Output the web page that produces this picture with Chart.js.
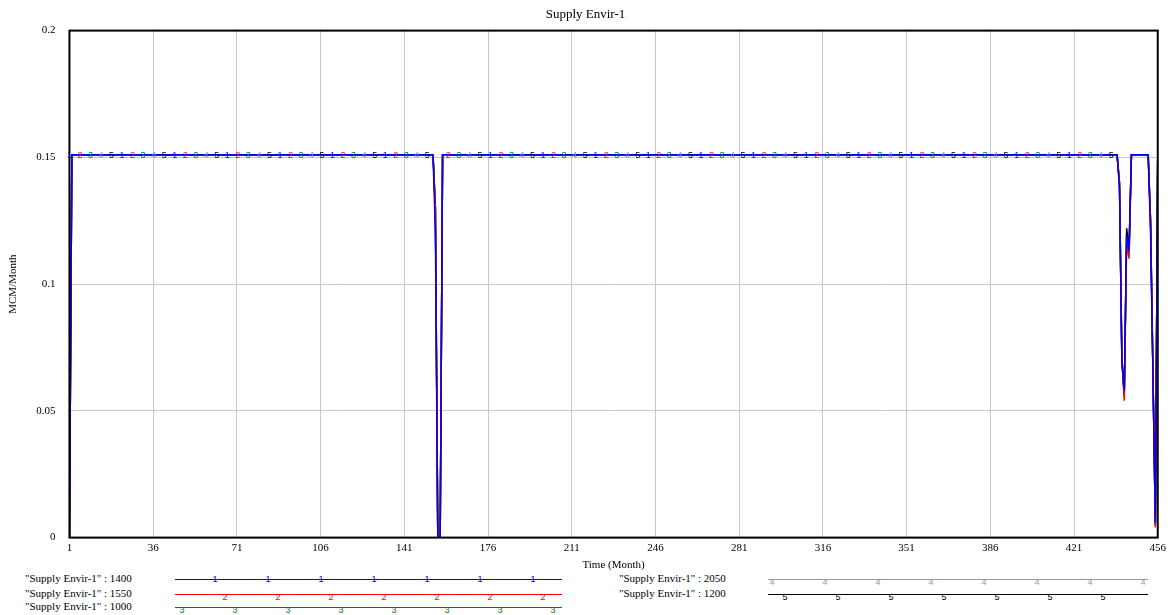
<!DOCTYPE html>
<html><head><meta charset="utf-8">
<script src="https://cdn.jsdelivr.net/npm/chart.js@4"></script>
<style>
body{margin:0;background:#fff;font-family:"Liberation Serif",serif;}
#wrap{position:absolute;left:0;top:0;width:1170px;height:572px;}
.lg{position:absolute;font-size:11px;color:#000;white-space:nowrap;}
.ln{position:absolute;height:1px;}
.mk{position:absolute;font-size:9px;font-family:"Liberation Sans",sans-serif;transform:translate(-50%,-50%);}
</style></head><body>
<div id="wrap"><canvas id="c"></canvas></div>
<div id="legend"></div>
<script>
const seriesNames = ['"Supply Envir-1" : 1400','"Supply Envir-1" : 1550','"Supply Envir-1" : 1000','"Supply Envir-1" : 2050','"Supply Envir-1" : 1200'];
const seriesColors = ['#0000ff','#ff0000','#008000','#999999','#000000'];
const xTicks = [1,36,71,106,141,176,211,246,281,316,351,386,421,456];
// breakpoints [month, MCM/Month]
const s1400 = [[1,0],[2,0.151],[153,0.151],[154,0.12],[155,0],[156,0],[157,0.151],[439,0.151],[440,0.138],[441,0.07],[442,0.058],[443,0.119],[444,0.113],[445,0.151],[452,0.151],[453,0.12],[455,0.006],[456,0.151]];
const s1550 = [[1,0],[2,0.151],[153,0.151],[154,0.13],[155,0],[156,0],[157,0.151],[439,0.151],[440,0.14],[441,0.072],[442,0.054],[443,0.116],[444,0.11],[445,0.151],[452,0.151],[453,0.125],[455,0.004],[456,0.151]];
const s1000 = [[1,0],[2,0.151],[153,0.151],[154,0.13],[155,0],[156,0],[157,0.151],[439,0.151],[440,0.14],[441,0.07],[442,0.056],[443,0.12],[444,0.112],[445,0.151],[452,0.151],[453,0.125],[455,0.005],[456,0.151]];
const s2050 = [[1,0],[2,0.151],[153,0.151],[154,0.13],[155,0],[156,0],[157,0.151],[439,0.151],[440,0.14],[441,0.07],[442,0.056],[443,0.12],[444,0.112],[445,0.151],[452,0.151],[453,0.125],[455,0.005],[456,0.151]];
const s1200 = [[1,0],[2,0.151],[153,0.151],[154,0.13],[155,0],[156,0],[157,0.151],[439,0.151],[440,0.14],[441,0.07],[442,0.056],[443,0.122],[444,0.114],[445,0.151],[452,0.151],[453,0.125],[455,0.005],[456,0.151]];
const seriesData = [s1400,s1550,s1000,s2050,s1200];

const order=[0,1,4,2,3];
const datasets = order.map(i=>({
  label:seriesNames[i], data:seriesData[i].map(p=>({x:p[0],y:p[1]})),
  borderColor:seriesColors[i], borderWidth:1.5, pointRadius:0, tension:0
}));

const digitPlugin={id:'digits',afterDatasetsDraw(chart){
  const ctx=chart.ctx,xs=chart.scales.x,ys=chart.scales.y;
  ctx.save();ctx.font='9px "Liberation Sans", sans-serif';ctx.textAlign='center';ctx.textBaseline='middle';
  const y=ys.getPixelForValue(0.151)+1;
  for(let k=0;k<5;k++){
    ctx.fillStyle=seriesColors[k];
    for(let t=1+k*4.4;t<=456;t+=22){
      if((t>152&&t<158)||(t>437))continue;
      ctx.fillText(String(k+1),xs.getPixelForValue(t),y);
    }
  }
  ctx.restore();
}};
const framePlugin={id:'frame',afterDraw(chart){
  const a=chart.chartArea,ctx=chart.ctx;ctx.save();ctx.strokeStyle='#000';ctx.lineWidth=2;
  ctx.strokeRect(a.left,a.top,a.right-a.left,a.bottom-a.top);ctx.restore();
}};

const cv=document.getElementById('c');cv.width=1170;cv.height=572;
new Chart(cv,{type:'line',data:{datasets},
 options:{responsive:false,animation:false,
  layout:{padding:{left:5,right:4,top:2,bottom:0}},
  plugins:{legend:{display:false},tooltip:{enabled:false},
   title:{display:true,text:'Supply Envir-1',color:'#000',font:{family:'Liberation Serif',size:13,weight:'normal'},padding:{top:5,bottom:8}}},
  scales:{
   x:{type:'linear',min:1,max:456,afterBuildTicks:s=>{s.ticks=xTicks.map(v=>({value:v}));},
     grid:{color:'#c8c8c8',drawTicks:false},border:{display:false},
     ticks:{color:'#000',font:{family:'Liberation Serif',size:11},padding:4,maxRotation:0},
     title:{display:true,text:'Time (Month)',color:'#000',font:{family:'Liberation Serif',size:11},padding:0}},
   y:{min:0,max:0.2,afterBuildTicks:s=>{s.ticks=[0,0.05,0.1,0.15,0.2].map(v=>({value:v}));},
     grid:{color:'#c8c8c8',drawTicks:false},border:{display:false},
     ticks:{color:'#000',font:{family:'Liberation Serif',size:11},padding:14,callback:v=>String(+v.toFixed(2))},
     title:{display:true,text:'MCM/Month',color:'#000',font:{family:'Liberation Serif',size:11},padding:2}}
  }},
 plugins:[digitPlugin,framePlugin]});

// legend
const L=document.getElementById('legend');
const rows=[[0,25,579,175,562,215],[1,25,594,175,562,225],[2,25,607,175,562,182],[3,619,579,768,1148,772],[4,619,594,768,1148,785]];
rows.forEach(([i,tx,ty,l0,l1,m0])=>{
  L.insertAdjacentHTML('beforeend',`<div class="lg" style="left:${tx}px;top:${ty-7}px">${seriesNames[i]}</div>`);
  L.insertAdjacentHTML('beforeend',`<div class="ln" style="left:${l0}px;top:${ty}px;width:${l1-l0}px;background:${seriesColors[i]}"></div>`);
  for(let m=m0;m<=l1;m+=53)
    L.insertAdjacentHTML('beforeend',`<div class="mk" style="left:${m}px;top:${ty+(i==0?0:3)}px;color:${seriesColors[i]}">${i+1}</div>`);
});
</script></body></html>
